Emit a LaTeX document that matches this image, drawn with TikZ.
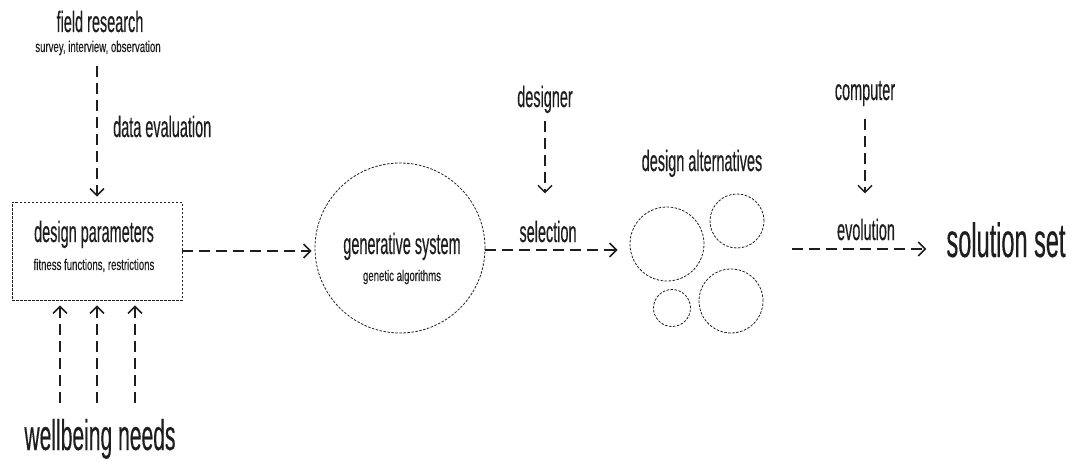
\documentclass[tikz,border=0pt]{standalone}
\usepackage{fontspec}
\setmainfont{Liberation Sans}[FakeStretch=0.49,FakeBold=0.3]
\newfontfamily\smallf{Liberation Sans}[FakeStretch=0.62,FakeBold=0.25]
\usetikzlibrary{arrows.meta}
\definecolor{ink}{HTML}{1E1E1E}
\begin{document}
\begin{tikzpicture}[x=1pt,y=-1pt,
  lab/.style={font=\fontsize{29.5}{32}\selectfont, inner sep=0pt, anchor=base, text=ink},
  sub/.style={font=\smallf\fontsize{15.5}{17}\selectfont, inner sep=0pt, anchor=base, text=ink},
  big/.style={font=\fontsize{43}{46}\selectfont, inner sep=0pt, anchor=base, text=ink},
  arr/.style={draw=ink, line width=1.8pt, dash pattern=on 11pt off 6pt,
     -{Straight Barb[length=7pt,width=14pt,line width=1.5pt]}},
  thin/.style={draw=ink, line width=0.8pt, dash pattern=on 2.5pt off 1.5pt}
]
\useasboundingbox (0,0) rectangle (1073,460);

% left column
\node[lab] (fr) at (100,32) {field research};
\node[sub] (sv) at (98,52) {survey, interview, observation};
\node[lab, anchor=base west] (de) at (113,137) {data evaluation};
\node[thin, rectangle, minimum width=170pt, minimum height=98pt, inner sep=0pt] (box) at (97,251) {};
\node[lab] (dp) at (94,242) {design parameters};
\node[sub] (ff) at (94,270) {fitness functions, restrictions};
\node[big] (wb) at (100,450) {wellbeing needs};

\draw[arr, shorten <=11pt, shorten >=5pt] (sv.south -| box.north) -- (box.north);
\foreach \dx in {-37,0,38}
  \draw[arr, shorten <=16pt, shorten >=5pt] ([xshift=\dx pt]box.south |- wb.north) -- ([xshift=\dx pt]box.south);

% generative system
\node[thin, circle, minimum size=170pt, inner sep=0pt] (gen) at (400,248) {};
\node[lab] (gs) at (402,254) {generative system};
\node[sub] (ga) at (402,281) {genetic algorithms};
\draw[arr, shorten >=3pt] (box.east |- 0,251) -- (gen.west |- 0,251);

% designer / selection
\node[lab] (dsg) at (545,107) {designer};
\node[lab] (sel) at (548,242) {selection};
\draw[arr, shorten <=8pt, shorten >=27pt] (dsg.south) -- (dsg.south |- sel.north);

% design alternatives
\node[lab] (da) at (702,171) {design alternatives};
\node[thin, circle, minimum size=74pt, inner sep=0pt] (c1) at (667,244) {};
\node[thin, circle, minimum size=54pt, inner sep=0pt] (c2) at (737,221) {};
\node[thin, circle, minimum size=37pt, inner sep=0pt] (c3) at (672,308) {};
\node[thin, circle, minimum size=64pt, inner sep=0pt] (c4) at (731,301) {};
\draw[arr, shorten >=12pt] (gen.east |- 0,250) -- (c1.west |- 0,250);

% computer / evolution
\node[lab] (cp) at (865,100) {computer};
\node[lab] (ev) at (866,240) {evolution};
\draw[arr, shorten <=13pt, shorten >=25pt] (cp.south) -- (cp.south |- ev.north);

% solution set
\node[big, font=\fontsize{48}{52}\selectfont] (sol) at (1006,257) {solution set};
\coordinate (altE) at (792,249);
\draw[arr, shorten >=20pt] (altE) -- (sol.west |- altE);
\end{tikzpicture}
\end{document}
